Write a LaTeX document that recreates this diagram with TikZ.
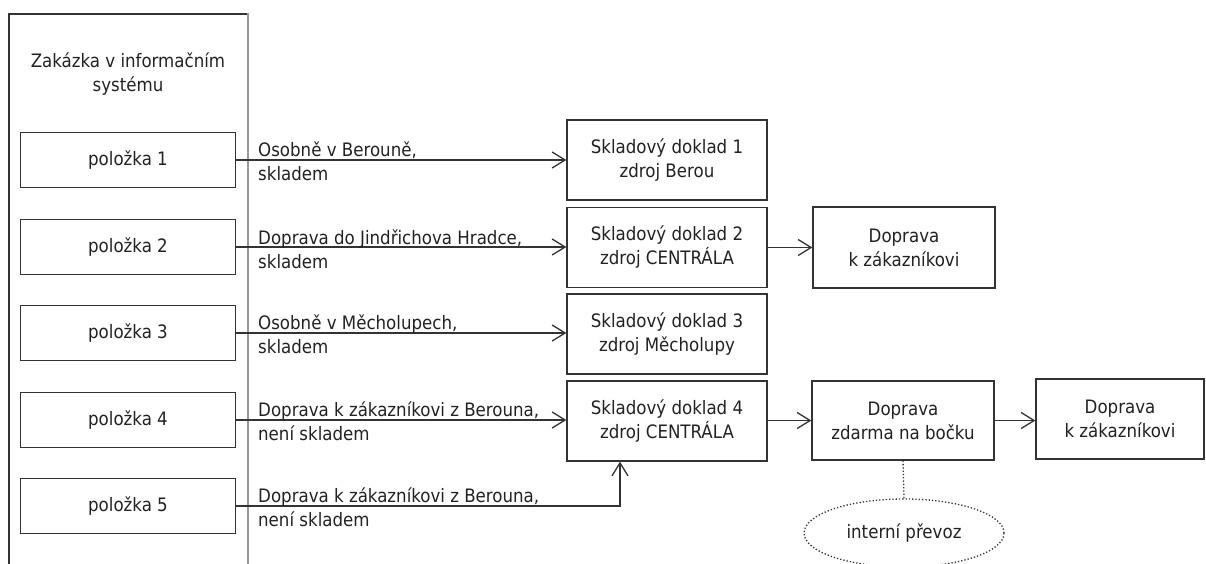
\documentclass[tikz,border=0pt]{standalone}
\usepackage{fontspec}
\setmainfont{DejaVu Sans Condensed}
\usetikzlibrary{arrows.meta,shapes.geometric}
\definecolor{ln}{HTML}{333333}
\definecolor{tx}{HTML}{222222}
\begin{document}
\begin{tikzpicture}[x=1pt,y=-1pt,
  every node/.style={text=tx, font=\fontsize{18.5}{24}\selectfont, inner sep=0pt},
  box/.style={draw=ln, line width=1.3pt, align=center, fill=white},
  itembox/.style={box, minimum width=215pt, minimum height=55pt},
  docbox/.style={box, minimum width=200pt, minimum height=80pt},
  lbl/.style={anchor=west, align=left},
  arr/.style={draw=ln, line width=1.3pt, -{Straight Barb[length=13pt,width=16pt]}},
  conn/.style={draw=ln, line width=1.3pt}]
\useasboundingbox (0,0) rectangle (1206,563);
\clip (0,0) rectangle (1206,563);
% container
\draw[conn] (9,570) -- (9,14) -- (248,14);
\draw[draw=gray!80, line width=2.2pt] (248,13) -- (248,570);
\node[align=center] (title) at (128,74) {Zakázka v informačním\\systému};
% items
\node[itembox] (p1) at (128,160) {položka 1};
\node[itembox] (p2) at (128,247) {položka 2};
\node[itembox] (p3) at (128,333) {položka 3};
\node[itembox] (p4) at (128,420) {položka 4};
\node[itembox] (p5) at (128,506) {položka 5};
% documents
\node[docbox] (s1) at (667,160) {Skladový doklad 1\\zdroj Berou};
\node[docbox] (s2) at (667,247.5) {Skladový doklad 2\\zdroj CENTRÁLA};
\node[docbox] (s3) at (667,334) {Skladový doklad 3\\zdroj Měcholupy};
\node[docbox] (s4) at (667,421) {Skladový doklad 4\\zdroj CENTRÁLA};
% transport
\node[box, minimum width=182pt, minimum height=81pt] (d2) at (904,247.5) {Doprava\\k zákazníkovi};
\node[box, minimum width=182pt, minimum height=79pt] (z) at (903,420.5) {Doprava\\zdarma na bočku};
\node[box, minimum width=168pt, minimum height=80pt] (d4) at (1120,419) {Doprava\\k zákazníkovi};
\node[ellipse, draw=ln, line width=1.3pt, dotted, minimum width=200pt, minimum height=68pt] (e) at (904,533) {interní převoz};
% connectors
\draw[arr] (p1.east) -- (p1.east -| s1.west);
\draw[arr] (p2.east) -- (p2.east -| s2.west);
\draw[arr] (p3.east) -- (p3.east -| s3.west);
\draw[arr] (p4.east) -- (p4.east -| s4.west);
\coordinate (j) at (620,506);
\draw[arr] (p5.east) -- (p5.east -| j) -- (j |- s4.south);
\draw[arr] (s2.east) -- (d2.west);
\draw[arr] (s4.east |- z.west) -- (z.west);
\draw[arr] (z.east) -- (z.east -| d4.west);
\draw[conn, dotted] (z.south) -- (e.north);
% labels
\node[lbl] (l1) at (258,161.5) {Osobně v Berouně,\\skladem};
\node[lbl] (l2) at (258,249) {Doprava do Jindřichova Hradce,\\skladem};
\node[lbl] (l3) at (258,334.5) {Osobně v Měcholupech,\\skladem};
\node[lbl] (l4) at (258,421.5) {Doprava k zákazníkovi z Berouna,\\není skladem};
\node[lbl] (l5) at (258,507.5) {Doprava k zákazníkovi z Berouna,\\není skladem};
\end{tikzpicture}
\end{document}
